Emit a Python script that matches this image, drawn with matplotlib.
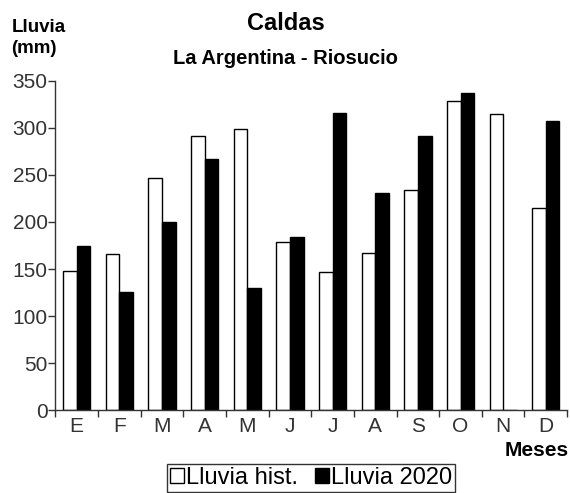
import matplotlib
matplotlib.use("Agg")
import matplotlib.pyplot as plt
import numpy as np

meses = ["E", "F", "M", "A", "M", "J", "J", "A", "S", "O", "N", "D"]
lluvia_hist = [148, 166, 247, 291, 299, 179, 147, 167, 234, 329, 315, 215]
lluvia_2020 = [174, 126, 200, 267, 130, 184, 316, 231, 291, 337, 0, 307]
yticks = [0, 50, 100, 150, 200, 250, 300, 350]

plt.rcParams["font.family"] = ["Liberation Sans", "DejaVu Sans"]

fig = plt.figure(figsize=(5.7, 4.93), dpi=100)
ax = fig.add_axes([0.097, 0.168, 0.898, 0.668])

x = np.arange(len(meses))
w = 0.32
b1 = ax.bar(x - w / 2, lluvia_hist, w, color="white", edgecolor="black", linewidth=1, label="Lluvia hist.")
b2 = ax.bar(x + w / 2, lluvia_2020, w, color="black", edgecolor="black", linewidth=1, label="Lluvia 2020")

ax.set_xlim(-0.5, len(meses) - 0.5)
ax.set_ylim(0, 350)
ax.set_yticks(yticks)
ax.set_xticks(x)
ax.set_xticklabels(meses)
ax.set_xticks(np.arange(len(meses) + 1) - 0.5, minor=True)
ax.tick_params(axis="x", which="major", length=0, pad=5, labelsize=15, labelcolor="#333333")
ax.tick_params(axis="x", which="minor", length=5, width=1, color="#333333")
ax.tick_params(axis="y", length=5, width=1, color="#333333", labelsize=15, labelcolor="#333333", pad=0.5)

for s in ["top", "right"]:
    ax.spines[s].set_visible(False)
for s in ["left", "bottom"]:
    ax.spines[s].set_color("#333333")
    ax.spines[s].set_linewidth(1)

fig.text(0.502, 0.953, "Caldas", ha="center", va="center", fontsize=17, fontweight="bold")
fig.text(0.5, 0.882, "La Argentina - Riosucio", ha="center", va="center", fontsize=14.5, fontweight="bold")
fig.text(0.02, 0.923, "Lluvia\n(mm)", ha="left", va="center", fontsize=13.5, fontweight="bold", linespacing=1.25)
fig.text(0.997, 0.087, "Meses", ha="right", va="center", fontsize=15, fontweight="bold")

leg = fig.legend(handles=[b1, b2], loc="upper center", bbox_to_anchor=(0.546, 0.058), ncol=2,
                 fontsize=17, frameon=True, fancybox=False, handlelength=0.6, handleheight=0.6,
                 handletextpad=0.1, columnspacing=0.7, borderpad=0.12, borderaxespad=0)
leg.get_frame().set_edgecolor("black")
leg.get_frame().set_linewidth(1)

fig.savefig("out.png", dpi=100)
